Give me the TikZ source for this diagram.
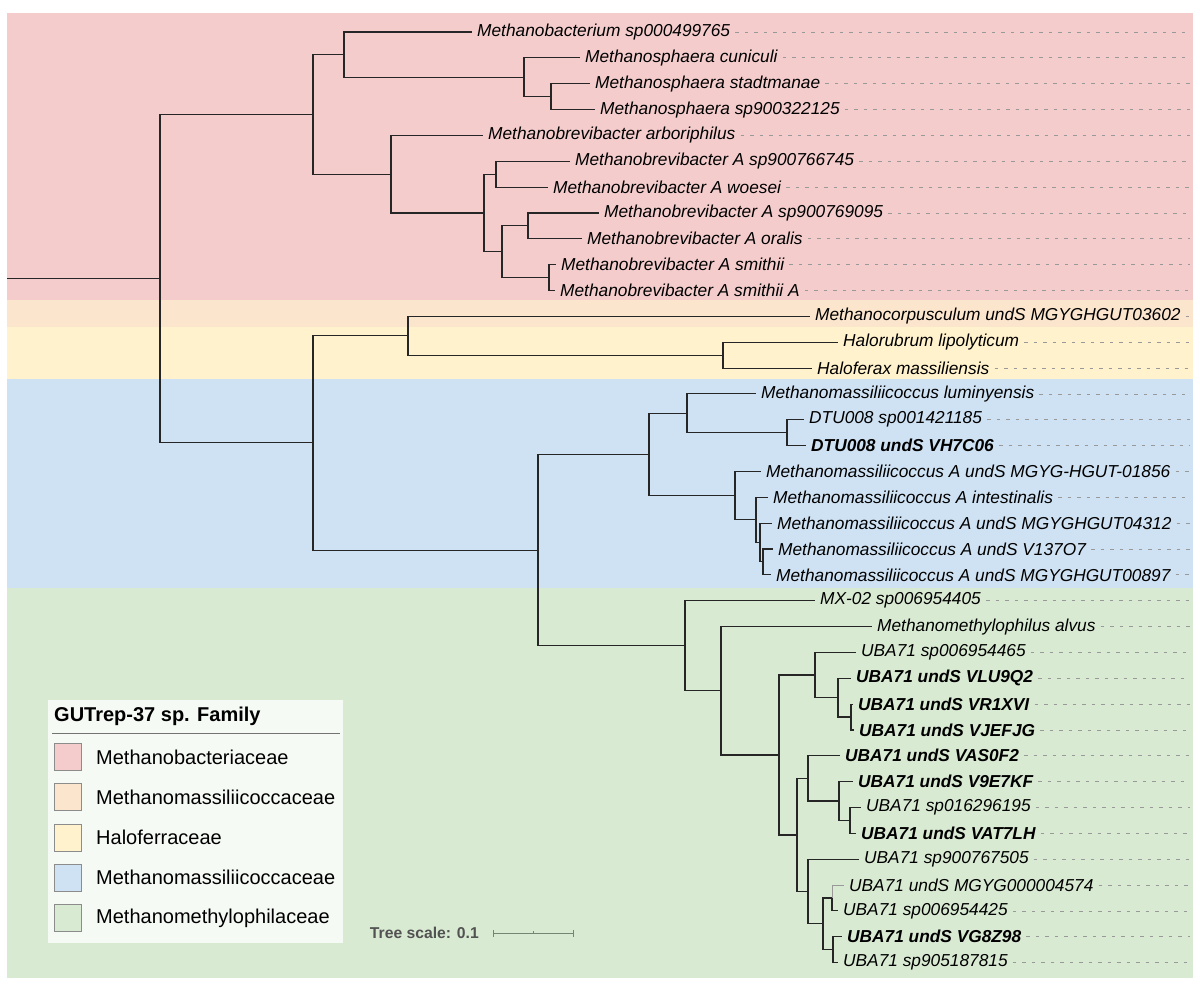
\documentclass[tikz,border=0pt]{standalone}
\usepackage{fontspec}
\setmainfont{Liberation Sans}
\definecolor{famred}{RGB}{244,204,204}
\definecolor{fampeach}{RGB}{252,229,205}
\definecolor{famyellow}{RGB}{255,242,204}
\definecolor{famblue}{RGB}{207,226,243}
\definecolor{famgreen}{RGB}{217,234,211}
\definecolor{legendbg}{RGB}{246,250,245}
\definecolor{scalegray}{RGB}{118,132,116}

\begin{document}
\begin{tikzpicture}[x=1pt,y=-1pt,
		branch/.style={draw=black!85, line width=1.1pt},
		guide/.style={draw=black!40, line width=0.8pt, dash pattern=on 3.5pt off 6pt},
		leaf/.style={anchor=west, inner xsep=5pt, inner ysep=0pt, font=\fontsize{17.3}{20}\selectfont\itshape},
		newleaf/.style={leaf, font=\fontsize{17.3}{20}\selectfont\bfseries\itshape},
		swatch/.style={draw=black!45, line width=0.6pt, minimum size=27pt, inner sep=0pt},
		famlabel/.style={anchor=west, inner sep=0pt, font=\fontsize{20}{24}\selectfont}]
		\useasboundingbox (0,0) rectangle (1200,996);
		% family bands
		\fill[famred] (7,13) rectangle (1193,300);
		\fill[fampeach] (7,300) rectangle (1193,327);
		\fill[famyellow] (7,327) rectangle (1193,379);
		\fill[famblue] (7,379) rectangle (1193,588);
		\fill[famgreen] (7,588) rectangle (1193,978);
		\coordinate (edge) at (1190,0);

		% leaves
		\node[leaf] (l1) at (472,32) {Methanobacterium sp000499765};
		\node[leaf] (l2) at (580,57.85) {Methanosphaera cuniculi};
		\node[leaf] (l3) at (590,83.7) {Methanosphaera stadtmanae};
		\node[leaf] (l4) at (595,109.55) {Methanosphaera sp900322125};
		\node[leaf] (l5) at (483,135.4) {Methanobrevibacter arboriphilus};
		\node[leaf] (l6) at (570,161.25) {Methanobrevibacter A sp900766745};
		\node[leaf] (l7) at (548,187.1) {Methanobrevibacter A woesei};
		\node[leaf] (l8) at (599,212.95) {Methanobrevibacter A sp900769095};
		\node[leaf] (l9) at (582,238.8) {Methanobrevibacter A oralis};
		\node[leaf] (l10) at (556,264.65) {Methanobrevibacter A smithii};
		\node[leaf] (l11) at (555,290.5) {Methanobrevibacter A smithii A};
		\node[leaf] (l12) at (810,316.35) {Methanocorpusculum undS MGYGHGUT03602};
		\node[leaf] (l13) at (838,342.2) {Halorubrum lipolyticum};
		\node[leaf] (l14) at (812,368.05) {Haloferax massiliensis};
		\node[leaf] (l15) at (756,393.9) {Methanomassiliicoccus luminyensis};
		\node[leaf] (l16) at (804,419.75) {DTU008 sp001421185};
		\node[newleaf] (l17) at (806,445.6) {DTU008 undS VH7C06};
		\node[leaf] (l18) at (761,471.45) {Methanomassiliicoccus A undS MGYG-HGUT-01856};
		\node[leaf] (l19) at (768,497.3) {Methanomassiliicoccus A intestinalis};
		\node[leaf] (l20) at (772,523.15) {Methanomassiliicoccus A undS MGYGHGUT04312};
		\node[leaf] (l21) at (773,549) {Methanomassiliicoccus A undS V137O7};
		\node[leaf] (l22) at (771,574.85) {Methanomassiliicoccus A undS MGYGHGUT00897};
		\node[leaf] (l23) at (815,600.7) {MX-02 sp006954405};
		\node[leaf] (l24) at (872,626.55) {Methanomethylophilus alvus};
		\node[leaf] (l25) at (856,652.4) {UBA71 sp006954465};
		\node[newleaf] (l26) at (851,678.25) {UBA71 undS VLU9Q2};
		\node[newleaf] (l27) at (853,704.1) {UBA71 undS VR1XVI};
		\node[newleaf] (l28) at (854,729.95) {UBA71 undS VJEFJG};
		\node[newleaf] (l29) at (840,755.8) {UBA71 undS VAS0F2};
		\node[newleaf] (l30) at (853,781.65) {UBA71 undS V9E7KF};
		\node[leaf] (l31) at (861,807.5) {UBA71 sp016296195};
		\node[newleaf] (l32) at (856,833.35) {UBA71 undS VAT7LH};
		\node[leaf] (l33) at (859,859.2) {UBA71 sp900767505};
		\node[leaf] (l34) at (844,885.05) {UBA71 undS MGYG000004574};
		\node[leaf] (l35) at (838,910.9) {UBA71 sp006954425};
		\node[newleaf] (l36) at (842,936.75) {UBA71 undS VG8Z98};
		\node[leaf] (l37) at (838,962.6) {UBA71 sp905187815};

		% internal nodes
		\coordinate (stub) at (7,278.65);
		\coordinate (root) at (160,278.65);
		\coordinate (bact) at (313,114.4);
		\coordinate (bact_mb) at (344,54.6);
		\coordinate (bact_sph) at (524,77.2);
		\coordinate (bact_sph2) at (551,96.6);
		\coordinate (bact_brev) at (391,174.2);
		\coordinate (bact_brevA) at (484,212.95);
		\coordinate (bact_brevA1) at (496,174.2);
		\coordinate (bact_brevA2) at (502,251.75);
		\coordinate (bact_brevA3) at (528,225.9);
		\coordinate (bact_brevA4) at (549,277.6);
		\coordinate (arch) at (313,442.9);
		\coordinate (corp) at (408,335.7);
		\coordinate (halo) at (723,355.1);
		\coordinate (mm) at (538,550.1);
		\coordinate (mmc) at (649,454.5);
		\coordinate (mmc_lum) at (687,413.3);
		\coordinate (mmc_dtu) at (787,432.7);
		\coordinate (mmc_A) at (735,495.7);
		\coordinate (mmc_A2) at (756,519.9);
		\coordinate (mmc_A3) at (760,542.5);
		\coordinate (mmc_A4) at (763,561.9);
		\coordinate (mmp) at (685,645.75);
		\coordinate (mmp_alv) at (721,690.8);
		\coordinate (uba) at (779,755);
		\coordinate (uba_1) at (815,675);
		\coordinate (uba_1a) at (838,697.6);
		\coordinate (uba_1b) at (851,717);
		\coordinate (uba_23) at (797,835);
		\coordinate (uba_2) at (808,778.4);
		\coordinate (uba_2b) at (839,801);
		\coordinate (uba_2c) at (850,820.4);
		\coordinate (uba_3) at (808,891.5);
		\coordinate (uba_3b) at (823,923.85);
		\coordinate (uba_3c) at (832,898);
		\coordinate (uba_3d) at (833,949.7);

		% branches
		\draw[branch] (stub) -- (root);
		\draw[branch] (root) |- (bact) (root) |- (arch);
			\draw[branch] (bact) |- (bact_mb) (bact) |- (bact_brev);
				\draw[branch] (bact_mb) |- (l1.west) (bact_mb) |- (bact_sph);
				\draw[branch] (bact_sph) |- (l2.west) (bact_sph) |- (bact_sph2);
				\draw[branch] (bact_sph2) |- (l3.west) (bact_sph2) |- (l4.west);
				\draw[branch] (bact_brev) |- (l5.west) (bact_brev) |- (bact_brevA);
				\draw[branch] (bact_brevA) |- (bact_brevA1) (bact_brevA) |- (bact_brevA2);
				\draw[branch] (bact_brevA1) |- (l6.west) (bact_brevA1) |- (l7.west);
				\draw[branch] (bact_brevA2) |- (bact_brevA3) (bact_brevA2) |- (bact_brevA4);
				\draw[branch] (bact_brevA3) |- (l8.west) (bact_brevA3) |- (l9.west);
				\draw[branch] (bact_brevA4) |- (l10.west) (bact_brevA4) |- (l11.west);
			\draw[branch] (arch) |- (corp) (arch) |- (mm);
				\draw[branch] (corp) |- (l12.west) (corp) |- (halo);
				\draw[branch] (halo) |- (l13.west) (halo) |- (l14.west);
				\draw[branch] (mm) |- (mmc) (mm) |- (mmp);
				\draw[branch] (mmc) |- (mmc_lum) (mmc) |- (mmc_A);
				\draw[branch] (mmc_lum) |- (l15.west) (mmc_lum) |- (mmc_dtu);
				\draw[branch] (mmc_dtu) |- (l16.west) (mmc_dtu) |- (l17.west);
				\draw[branch] (mmc_A) |- (l18.west) (mmc_A) |- (mmc_A2);
				\draw[branch] (mmc_A2) |- (l19.west) (mmc_A2) |- (mmc_A3);
				\draw[branch] (mmc_A3) |- (l20.west) (mmc_A3) |- (mmc_A4);
				\draw[branch] (mmc_A4) |- (l21.west) (mmc_A4) |- (l22.west);
				\draw[branch] (mmp) |- (l23.west) (mmp) |- (mmp_alv);
				\draw[branch] (mmp_alv) |- (l24.west) (mmp_alv) |- (uba);
				\draw[branch] (uba) |- (uba_1) (uba) |- (uba_23);
				\draw[branch] (uba_1) |- (l25.west) (uba_1) |- (uba_1a);
				\draw[branch] (uba_1a) |- (l26.west) (uba_1a) |- (uba_1b);
				\draw[branch] (uba_1b) |- (l27.west) (uba_1b) |- (l28.west);
				\draw[branch] (uba_23) |- (uba_2) (uba_23) |- (uba_3);
				\draw[branch] (uba_2) |- (l29.west) (uba_2) |- (uba_2b);
				\draw[branch] (uba_2b) |- (l30.west) (uba_2b) |- (uba_2c);
				\draw[branch] (uba_2c) |- (l31.west) (uba_2c) |- (l32.west);
				\draw[branch] (uba_3) |- (l33.west) (uba_3) |- (uba_3b);
				\draw[branch] (uba_3b) |- (uba_3c) (uba_3b) |- (uba_3d);
				\draw[branch] (uba_3c) |- (l35.west);
				\draw[branch, draw=black!40, line width=0.7pt] (uba_3c) |- (l34.west);
				\draw[branch] (uba_3d) |- (l36.west) (uba_3d) |- (l37.west);

		% dotted guides to the right edge
		\draw[guide] (l1.east) -- (l1.east -| edge) (l2.east) -- (l2.east -| edge)
			(l3.east) -- (l3.east -| edge) (l4.east) -- (l4.east -| edge)
			(l5.east) -- (l5.east -| edge) (l6.east) -- (l6.east -| edge)
			(l7.east) -- (l7.east -| edge) (l8.east) -- (l8.east -| edge)
			(l9.east) -- (l9.east -| edge) (l10.east) -- (l10.east -| edge)
			(l11.east) -- (l11.east -| edge) (l12.east) -- (l12.east -| edge)
			(l13.east) -- (l13.east -| edge) (l14.east) -- (l14.east -| edge)
			(l15.east) -- (l15.east -| edge) (l16.east) -- (l16.east -| edge)
			(l17.east) -- (l17.east -| edge) (l18.east) -- (l18.east -| edge)
			(l19.east) -- (l19.east -| edge) (l20.east) -- (l20.east -| edge)
			(l21.east) -- (l21.east -| edge) (l22.east) -- (l22.east -| edge)
			(l23.east) -- (l23.east -| edge) (l24.east) -- (l24.east -| edge)
			(l25.east) -- (l25.east -| edge) (l26.east) -- (l26.east -| edge)
			(l27.east) -- (l27.east -| edge) (l28.east) -- (l28.east -| edge)
			(l29.east) -- (l29.east -| edge) (l30.east) -- (l30.east -| edge)
			(l31.east) -- (l31.east -| edge) (l32.east) -- (l32.east -| edge)
			(l33.east) -- (l33.east -| edge) (l34.east) -- (l34.east -| edge)
			(l35.east) -- (l35.east -| edge) (l36.east) -- (l36.east -| edge)
			(l37.east) -- (l37.east -| edge);

		% legend
		\fill[legendbg] (48,700) rectangle (343,943);
		\node[anchor=west, inner sep=0pt, font=\fontsize{20}{24}\selectfont\bfseries] (legend_title) at (54,716) {GUTrep-37 sp. Family};
		\draw[black!55, line width=0.8pt] (52,733) -- (340,733);
		\node[swatch, fill=famred] (sw_bact) at (67.5,757) {};
		\node[swatch, fill=fampeach] (sw_mmc1) at (67.5,797.25) {};
		\node[swatch, fill=famyellow] (sw_halo) at (67.5,837.5) {};
		\node[swatch, fill=famblue] (sw_mmc2) at (67.5,877.75) {};
		\node[swatch, fill=famgreen] (sw_mmp) at (67.5,918) {};
		\node[famlabel] (fam_bact) at (96,757) {Methanobacteriaceae};
		\node[famlabel] (fam_mmc1) at (96,797.25) {Methanomassiliicoccaceae};
		\node[famlabel] (fam_halo) at (96,837.5) {Haloferraceae};
		\node[famlabel] (fam_mmc2) at (96,877.75) {Methanomassiliicoccaceae};
		\node[famlabel] (fam_mmp) at (96,918) {Methanomethylophilaceae};

		% tree scale
		\node[anchor=east, inner sep=0pt, text=black!68, font=\fontsize{15.7}{18}\selectfont\bfseries] (scale_text) at (479,933) {Tree scale: 0.1};
		\coordinate (scale_l) at (493,933);
		\coordinate (scale_m) at (533,933);
		\coordinate (scale_r) at (573,933);
		\draw[scalegray, line width=1pt] (scale_l) -- (scale_r);
		\draw[scalegray, line width=1pt] ([yshift=-3.5pt]scale_l) -- ([yshift=3.5pt]scale_l)
			([yshift=-3.5pt]scale_r) -- ([yshift=3.5pt]scale_r)
			(scale_m) -- ([yshift=2.5pt]scale_m);
\end{tikzpicture}
\end{document}
